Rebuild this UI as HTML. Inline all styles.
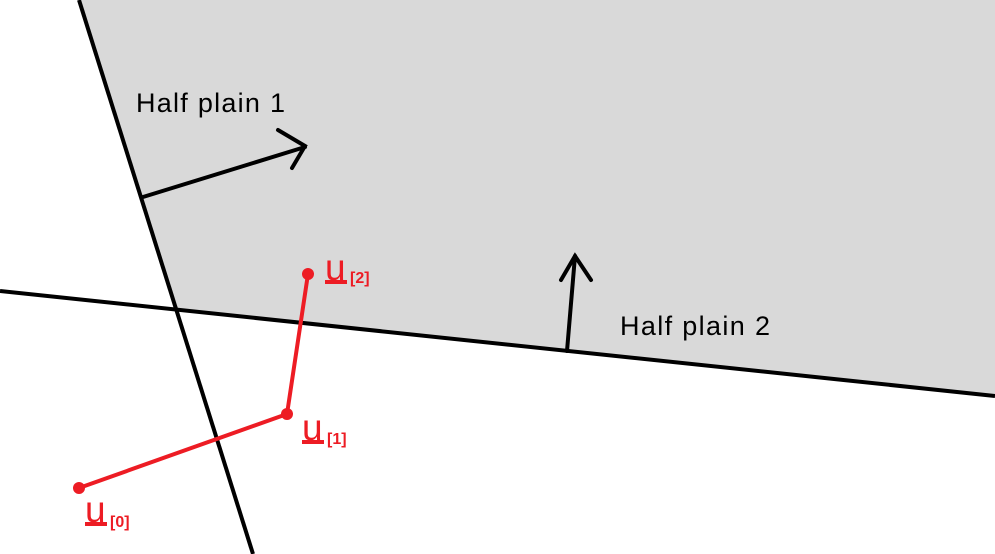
<!DOCTYPE html>
<html><head><meta charset="utf-8"><style>
html,body{margin:0;padding:0;background:#fff;}
svg{display:block;}
text{font-family:"Liberation Sans",sans-serif;}
</style></head><body>
<svg width="995" height="554" viewBox="0 0 995 554">
<polygon points="79,0 995,0 995,396 175,310" fill="#d9d9d9"/>
<line x1="79" y1="0" x2="253" y2="554" stroke="#000" stroke-width="4"/>
<line x1="0" y1="291" x2="995" y2="396" stroke="#000" stroke-width="4"/>
<g stroke="#000" stroke-width="4" fill="none" stroke-linecap="round">
<line x1="143" y1="197" x2="305" y2="147"/>
<polyline points="278,130 305,146 292,168"/>
</g>
<g stroke="#000" stroke-width="4" fill="none" stroke-linecap="round">
<line x1="567" y1="351" x2="575" y2="256"/>
<polyline points="561,280 575,256 591,280"/>
</g>
<text x="136" y="112" font-size="27" textLength="149" fill="#000">Half plain 1</text>
<text x="620" y="335" font-size="27" textLength="150" fill="#000">Half plain 2</text>
<g stroke="#ed1c24" stroke-width="4" fill="none">
<polyline points="79,488 287,414 308,274"/>
</g>
<circle cx="79" cy="488" r="6" fill="#ed1c24"/>
<circle cx="287" cy="414" r="6" fill="#ed1c24"/>
<circle cx="308" cy="274" r="6" fill="#ed1c24"/>
<g fill="#ed1c24">
<g>
<text x="85" y="522" font-size="37">u</text><rect x="85" y="522" width="22" height="4"/>
<text x="110" y="527" font-size="16" font-weight="bold">[0]</text>
</g>
<g>
<text x="302" y="440" font-size="37">u</text><rect x="302" y="440" width="22" height="4"/>
<text x="327" y="444" font-size="16" font-weight="bold">[1]</text>
</g>
<g>
<text x="325" y="280" font-size="37">u</text><rect x="325" y="280" width="22" height="4"/>
<text x="350" y="283" font-size="16" font-weight="bold">[2]</text>
</g>
</g>
</svg>
</body></html>
